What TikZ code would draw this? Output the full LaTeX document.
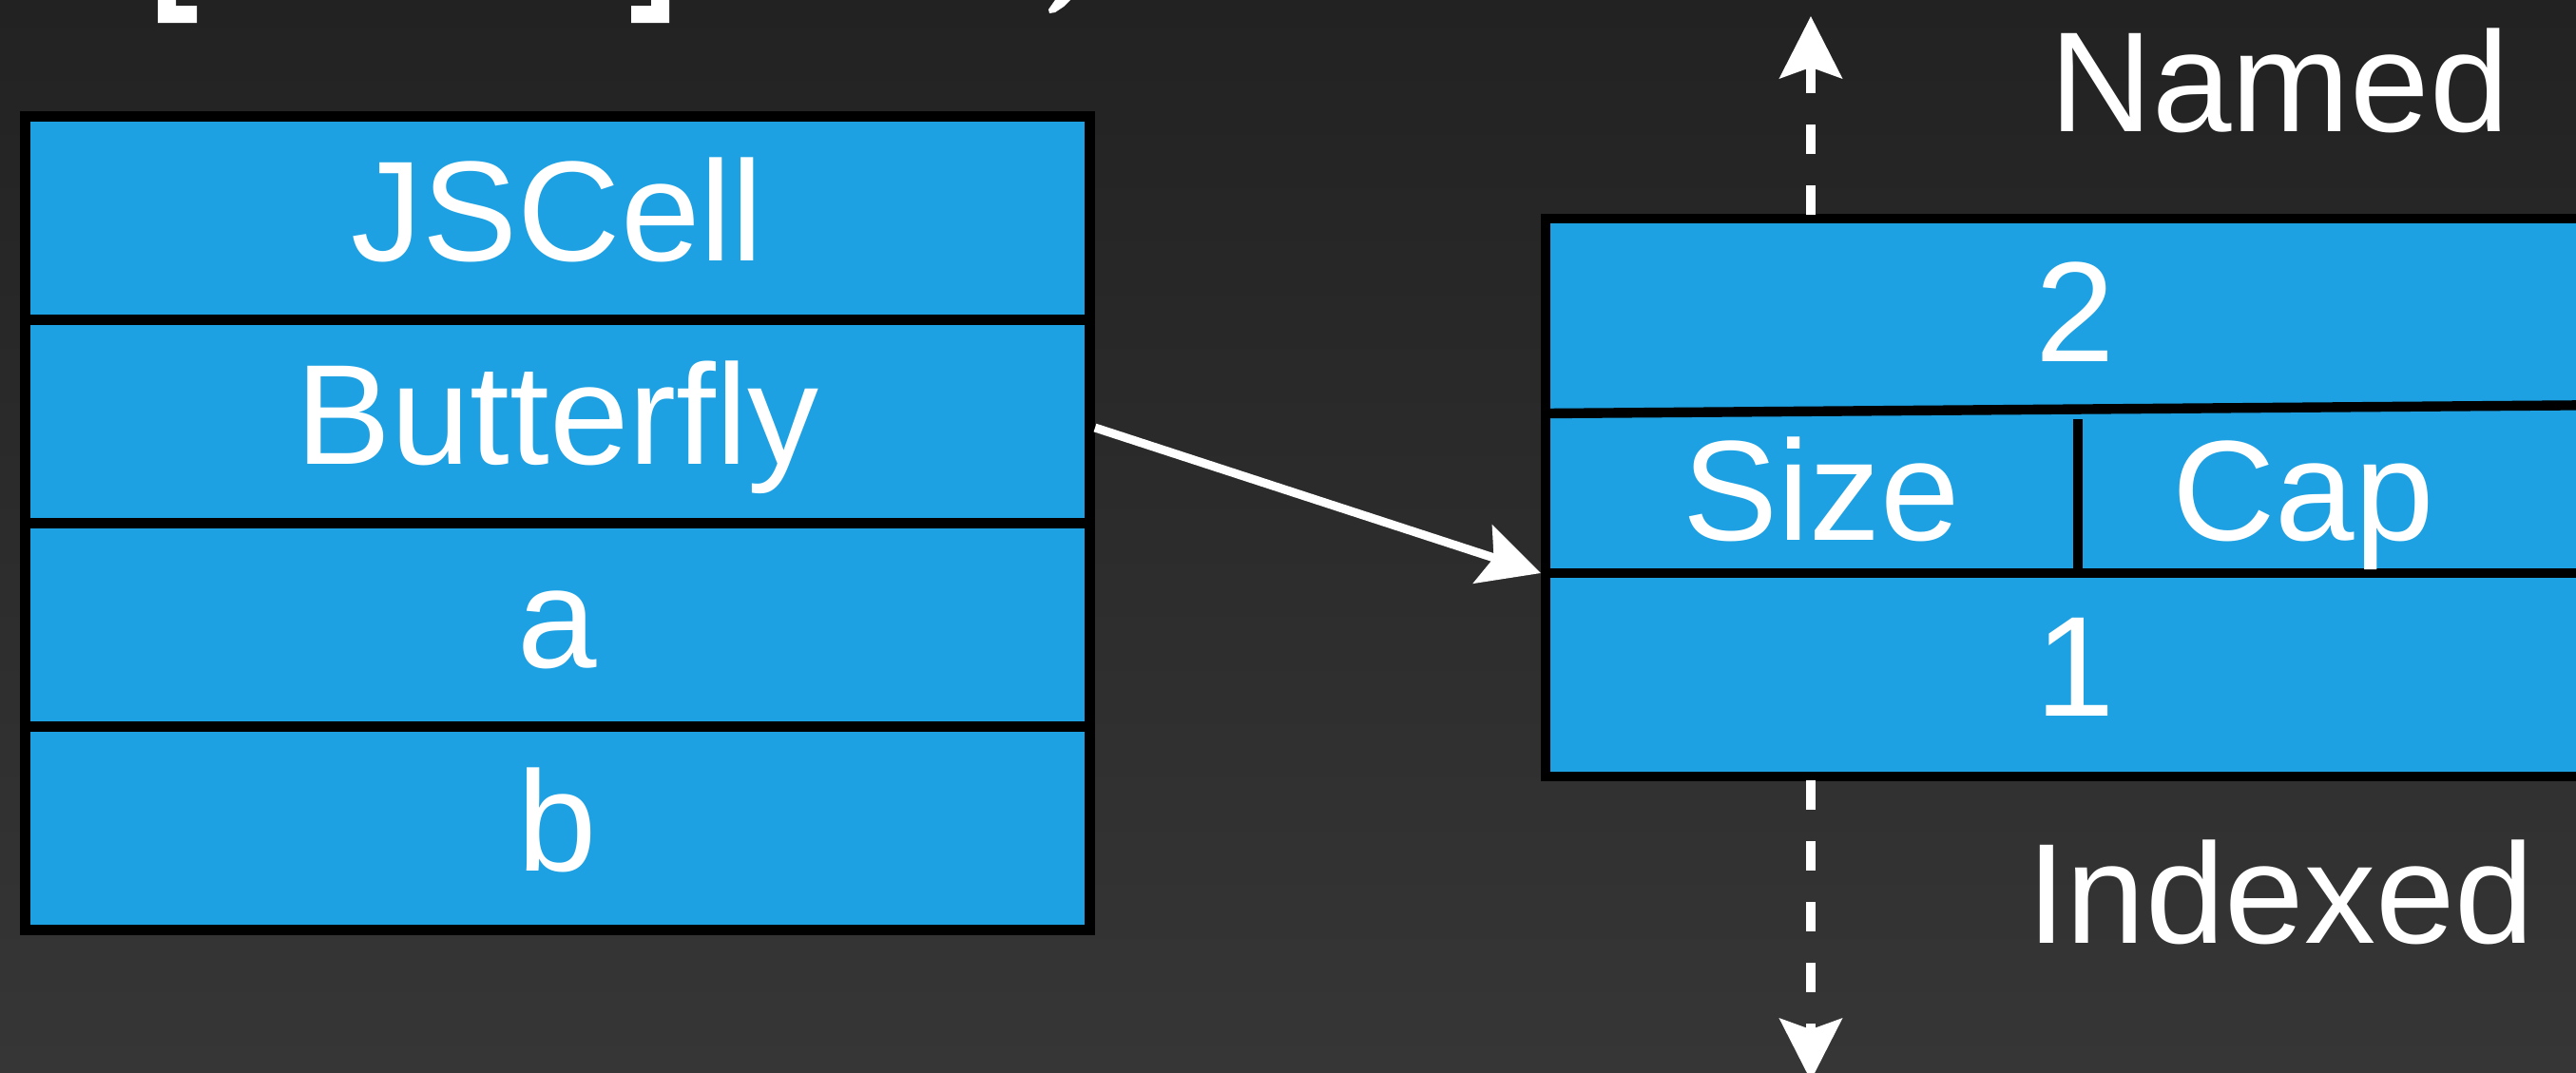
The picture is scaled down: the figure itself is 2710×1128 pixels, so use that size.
\documentclass[tikz,border=0pt]{standalone}
\usepackage{fontspec}
\newfontfamily\slidefont[Ligatures=NoCommon]{Liberation Sans}
\usetikzlibrary{arrows.meta}
\definecolor{cellblue}{RGB}{29,161,226}
\definecolor{bgtop}{RGB}{34,34,34}
\definecolor{bgbottom}{RGB}{54,54,54}

\tikzset{
  slidetext/.style={text=white, font=\slidefont\fontsize{37.5}{45}\selectfont},
  cellrow/.style={slidetext, draw=black, fill=cellblue, line width=2.75pt,
    minimum width=280pt, minimum height=53.5pt, inner sep=0pt,
    text height=27pt, text depth=4.5pt},
  celllabel/.style={slidetext, anchor=base, inner sep=0pt},
  boxline/.style={draw=black, line width=2.6pt},
  ptrarrow/.style={draw=white, line width=2.25pt,
    -{Stealth[length=16pt, width=16pt, inset=3pt]}},
  growarrow/.style={draw=white, line width=2.6pt, dash pattern=on 7.8pt off 8.2pt,
    -{Stealth[length=16.25pt, width=16.25pt, inset=2.8pt]}}
}

\begin{document}
\begin{tikzpicture}[x=0.25pt, y=-0.25pt]
  \useasboundingbox (0,0) rectangle (2710,1128);
  \shade[top color=bgtop, bottom color=bgbottom] (0,0) rectangle (2710,1128);

  % feet of the heading glyphs above the object
  \fill[white] (166,0) -- (185,0) -- (185,6) -- (207,6) -- (207,24) -- (166,24) -- cycle;
  \fill[white] (685,0) -- (704,0) -- (704,24) -- (664,24) -- (664,6) -- (685,6) -- cycle;
  \fill[white] (1110,0) -- (1126,0) -- (1119,7) -- (1110,13) -- (1104,14) -- (1103,10) -- cycle;

  % the object: cell header, butterfly pointer, inline properties
  \node[cellrow] (jscell)    at (586.5,229) {JSCell};
  \node[cellrow] (butterfly) at (586.5,443) {Butterfly};
  \node[cellrow] (propa)     at (586.5,657) {a};
  \node[cellrow] (propb)     at (586.5,871) {b};

  % the butterfly storage
  \fill[cellblue] (1626,230) rectangle (2760,817);
  \draw[boxline, line join=miter] (2760,230) -- (1626,230) -- (1626,817) -- (2760,817);
  \draw[boxline] (1626,435) -- (2760,426);
  \draw[boxline] (1626,603) -- (2760,603);
  \draw[draw=black, line width=2.5pt] (2186,441) -- (2186,603);

  \node[celllabel] (named2)  at (2183,380) {2};
  \node[celllabel] (size)    at (1916,568) {Size};
  \node[celllabel] (cap)     at (2423,568) {Cap};
  \node[celllabel] (indexed1) at (2183,753) {1};

  \node[celllabel] (namedlbl)   at (2398,138) {Named};
  \node[celllabel] (indexedlbl) at (2399,992) {Indexed};

  \coordinate (storage-entry) at (1621,603);
  \coordinate (storage-top)   at (1905,226);
  \coordinate (named-tip)     at (1905,17);
  \coordinate (storage-bot)   at (1905,821);
  \coordinate (indexed-tip)   at (1905,1137);

  % butterfly pointer into the middle of the storage
  \draw[ptrarrow] ([yshift=-1.75pt]butterfly.east) -- (storage-entry);

  % growth directions of the storage
  \draw[growarrow] (storage-top) -- (named-tip);
  \draw[growarrow] (storage-bot) -- (indexed-tip);
\end{tikzpicture}
\end{document}
